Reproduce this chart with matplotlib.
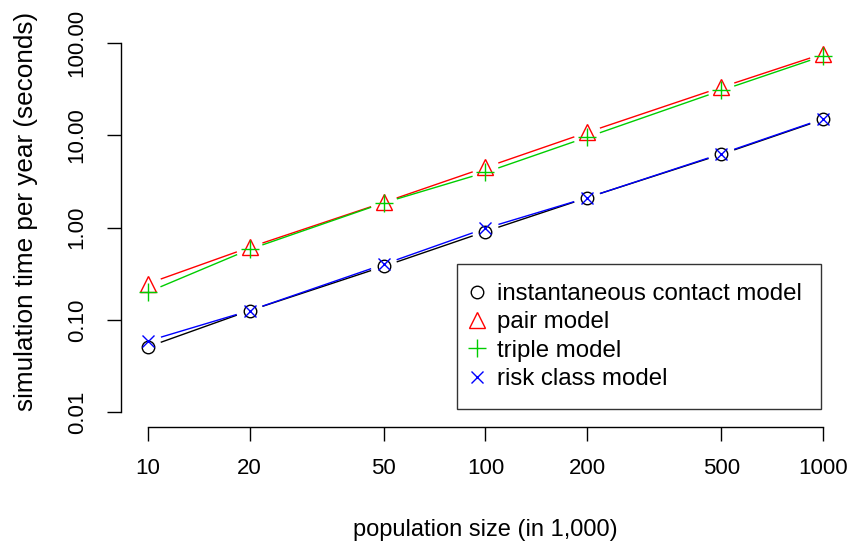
import matplotlib
matplotlib.use("Agg")
import matplotlib.pyplot as plt
import numpy as np
from matplotlib.lines import Line2D

pop = [10, 20, 50, 100, 200, 500, 1000]
instant = [0.051, 0.126, 0.38, 0.905, 2.1, 6.2, 14.8]
pair = [0.247, 0.61, 1.87, 4.47, 10.7, 33, 76]
triple = [0.20, 0.58, 1.85, 3.95, 9.5, 30.5, 72]
risk = [0.059, 0.126, 0.40, 0.98, 2.1, 6.3, 15.0]

series_names = ["instantaneous contact model", "pair model", "triple model", "risk class model"]
series = [instant, pair, triple, risk]
colors = ["black", "#FF0000", "#00CD00", "#0000FF"]
markers = ["o", "^", "+", "x"]
msizes = [9, 11, 13, 9]

xticks = [10, 20, 50, 100, 200, 500, 1000]
xticklabels = ["10", "20", "50", "100", "200", "500", "1000"]
yticks = [0.01, 0.1, 1, 10, 100]
yticklabels = ["0.01", "0.10", "1.00", "10.00", "100.00"]

plt.rcParams['font.family'] = ['Liberation Sans', 'DejaVu Sans']
W, H = 851, 545
fig = plt.figure(figsize=(W / 100, H / 100), dpi=100)
ax = fig.add_axes([121 / W, (H - 427) / H, (850 - 121) / W, (427 - 28) / H])
ax.set_xscale("log")
ax.set_yscale("log")
ax.set_xlim(10 ** 0.92, 10 ** 3.08)
ax.set_ylim(10 ** -2.16, 10 ** 2.16)

gap = 13.5
fig.canvas.draw()
for vals, c, m, ms in zip(series, colors, markers, msizes):
    pts = ax.transData.transform(np.column_stack([pop, vals]))
    for i in range(len(pts) - 1):
        p0, p1 = pts[i], pts[i + 1]
        d = p1 - p0
        L = np.hypot(*d)
        u = d / L
        seg = np.array([p0 + u * gap, p1 - u * gap])
        seg_d = ax.transData.inverted().transform(seg)
        ax.plot(seg_d[:, 0], seg_d[:, 1], color=c, lw=1.0, solid_capstyle='butt')
    ax.plot(pop, vals, linestyle='none', marker=m, ms=ms, mfc='none', mec=c, mew=1.0)

for s in ["top", "right"]:
    ax.spines[s].set_visible(False)
ax.spines["left"].set_bounds(0.01, 100)
ax.spines["bottom"].set_bounds(10, 1000)
ax.spines["left"].set_linewidth(1.0)
ax.spines["bottom"].set_linewidth(1.0)

ax.set_xticks(xticks)
ax.set_xticklabels(xticklabels)
ax.set_yticks(yticks)
ax.set_yticklabels(yticklabels, rotation=90, va='center')
ax.minorticks_off()
ax.tick_params(axis='both', length=10, width=1.0, labelsize=16)
ax.tick_params(axis='x', pad=12)
ax.tick_params(axis='y', pad=14)

ax.set_xlabel("population size (in 1,000)", fontsize=17, labelpad=29)
ax.set_ylabel("simulation time per year (seconds)", fontsize=18.8)
ax.yaxis.set_label_coords(-(121 - 38) / (850 - 121), (427 - 211) / (427 - 28))

handles = [Line2D([], [], linestyle='none', marker=m, ms=ms, mfc='none', mec=c, mew=1.0)
           for c, m, ms in zip(colors, markers, msizes)]
leg = ax.legend(handles, series_names, loc='upper left',
                bbox_to_anchor=((457 - 121) / (850 - 121), (427 - 264) / (427 - 28)),
                fontsize=17.3, frameon=True, fancybox=False, handlelength=0.1,
                handletextpad=0.75, borderpad=0.8, labelspacing=0.26, borderaxespad=0)
leg.get_frame().set_edgecolor('black')
leg.get_frame().set_linewidth(1.0)

fig.savefig("out.png", dpi=100)
